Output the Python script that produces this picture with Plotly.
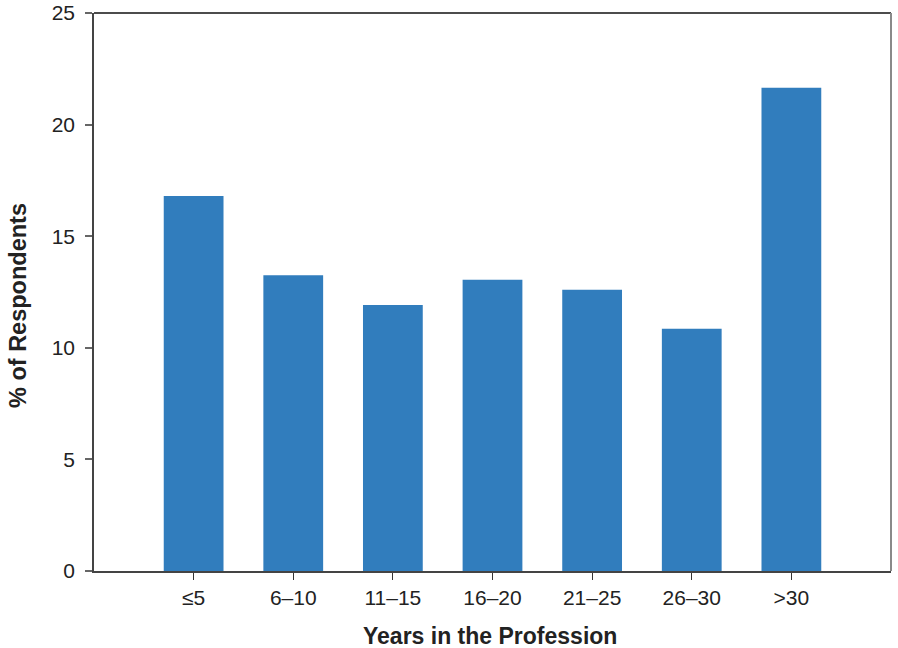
import plotly.graph_objects as go

categories = ["≤5", "6–10", "11–15", "16–20", "21–25", "26–30", ">30"]
values = [16.8, 13.25, 11.92, 13.05, 12.6, 10.85, 21.65]

fig = go.Figure(go.Bar(
    x=list(range(len(categories))), y=values,
    marker=dict(color="#317dbd", line=dict(width=0)),
    width=0.6,
))

font = "Liberation Sans, Arial, sans-serif"
L, R, T, B = 94, 7, 13, 77
W, H = 898, 648
pw, ph = W - L - R, H - T - B

fig.update_layout(
    width=W, height=H,
    margin=dict(l=L, r=R, t=T, b=B, autoexpand=False),
    paper_bgcolor="white", plot_bgcolor="white",
    showlegend=False,
    font=dict(family=font, size=21, color="#222"),
    xaxis=dict(
        range=[-1, 7], tickmode="array",
        tickvals=list(range(len(categories))), ticktext=categories,
        ticks="outside", ticklen=7, tickcolor="#333", tickwidth=1,
        showline=True, linecolor="#444", linewidth=1.5, mirror=False,
        showgrid=False, zeroline=False, automargin=False,
        tickfont=dict(size=21, family=font, color="#222"),
    ),
    yaxis=dict(
        range=[0, 25], dtick=5,
        ticks="outside", ticklen=7, tickcolor="#666", tickwidth=1.5,
        showline=True, linecolor="#444", linewidth=1.5,
        showgrid=False, zeroline=False, automargin=False,
        ticklabelstandoff=6,
        tickfont=dict(size=21, family=font, color="#222"),
    ),
    shapes=[
        dict(type="line", xref="paper", yref="paper", x0=0, x1=1, y0=1, y1=1,
             line=dict(color="#111", width=1.5)),
        dict(type="line", xref="paper", yref="paper", x0=1, x1=1, y0=0, y1=1,
             line=dict(color="#8a8a8a", width=2)),
    ],
    annotations=[
        dict(text="<b>Years in the Profession</b>", xref="paper", yref="paper",
             x=(490 - L) / pw, y=(H - B - 636) / ph, xanchor="center", yanchor="middle",
             showarrow=False, font=dict(size=23, family=font, color="#222")),
        dict(text="<b>% of Respondents</b>", xref="paper", yref="paper",
             x=(18 - L) / pw, y=(H - B - 306) / ph, xanchor="center", yanchor="middle",
             textangle=-90, showarrow=False, font=dict(size=23.5, family=font, color="#222")),
    ],
)

fig.write_html("out.html", config={"responsive": False, "displayModeBar": False},
               post_script="document.body.style.margin='0';document.body.style.overflow='hidden';")
